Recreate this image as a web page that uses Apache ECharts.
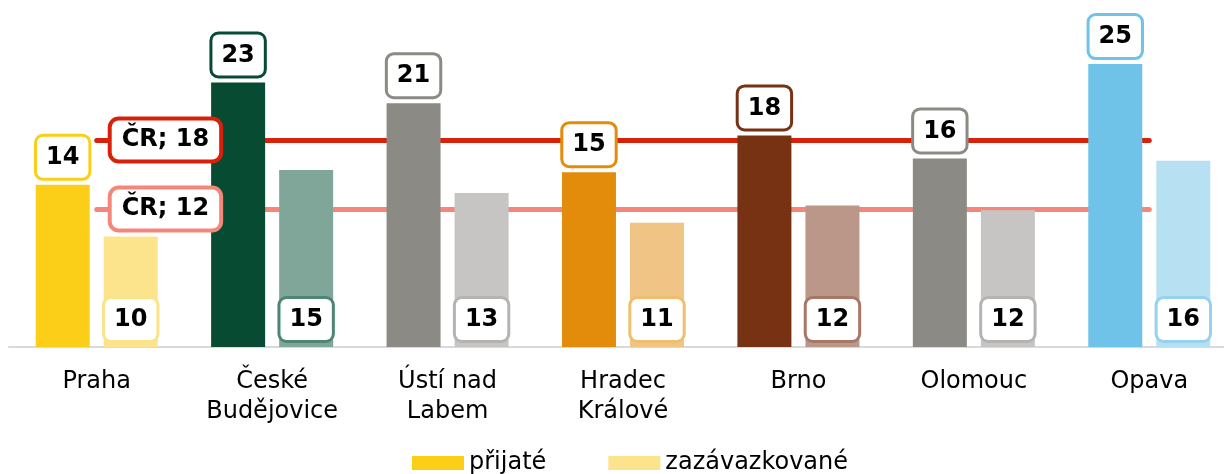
<!DOCTYPE html>
<html>
<head>
<meta charset="utf-8">
<script src="https://cdn.jsdelivr.net/npm/echarts@6/dist/echarts.min.js"></script>
<style>
  html, body { margin: 0; padding: 0; background: #fff; }
  #chart { width: 1224px; height: 474px; }
</style>
</head>
<body>
<div id="chart"></div>
<script>
// data
const categories = ['Praha', 'České\nBudějovice', 'Ústí nad\nLabem', 'Hradec\nKrálové', 'Brno', 'Olomouc', 'Opava']
const prijate = [14.1, 23.0, 21.2, 15.2, 18.4, 16.4, 24.6]
const zavazkovane = [9.6, 15.4, 13.4, 10.8, 12.3, 11.9, 16.2]
const crPrijate = 18
const crZavazkovane = 12

// colours per region: strong / light / light label border
const darkColors = ['#fbcf17', '#064b32', '#8b8a84', '#e38c0b', '#773113', '#8b8a84', '#6fc3e8']
const lightColors = ['#fce48c', '#7fa698', '#c6c5c3', '#f0c484', '#bb978a', '#c6c5c3', '#b7e0f2']
const lightBorders = ['#fbe38a', '#4f8671', '#b4b3b1', '#efbe6f', '#a87866', '#b4b3b1', '#94d2ef']

const font = 'DejaVu Sans, Verdana, sans-serif'

const boxLabel = {
  show: true,
  formatter: p => Math.round(p.value),
  fontFamily: font,
  fontWeight: 'bold',
  fontSize: 24,
  lineHeight: 26,
  color: '#000',
  backgroundColor: '#fff',
  borderWidth: 3,
  borderRadius: 6,
  padding: [8, 9, 7, 9]
}

// reference line with a boxed label at its start
function crLine(value, color) {
  return [
    {
      coord: [0, value],
      lineStyle: { color: color, width: 5, type: 'solid', cap: 'round' },
      label: Object.assign({}, boxLabel, {
        position: 'insideStart',
        distance: 15,
        formatter: 'ČR; ' + value,
        borderColor: color,
        borderWidth: 4,
        borderRadius: 7,
        padding: [7, 10, 6, 10]
      })
    },
    { coord: [6, value] }
  ]
}

const chart = echarts.init(document.getElementById('chart'))

chart.setOption({
  animation: false,
  grid: { left: 9, right: -13, top: 2, bottom: 127, outerBoundsMode: 'none', containLabel: false },
  legend: {
    left: 407,
    top: 446,
    icon: 'rect',
    itemWidth: 52,
    itemHeight: 14,
    itemGap: 62,
    textStyle: { fontFamily: font, fontSize: 24, color: '#000' },
    data: ['přijaté', 'zazávazkované']
  },
  xAxis: {
    type: 'category',
    data: categories,
    axisLine: { lineStyle: { color: '#d9d9d9', width: 2 } },
    axisTick: { show: false },
    axisLabel: {
      fontFamily: font,
      fontSize: 24,
      color: '#000',
      lineHeight: 30,
      margin: 20
    }
  },
  yAxis: {
    type: 'value',
    min: 0,
    max: 30,
    show: false,
    splitLine: { show: false }
  },
  series: [
    {
      name: 'přijaté',
      type: 'bar',
      barWidth: 54,
      barGap: '26%',
      itemStyle: { color: darkColors[0] },
      label: Object.assign({}, boxLabel, { position: 'top', distance: 7 }),
      data: prijate.map((v, i) => ({
        value: v,
        itemStyle: { color: darkColors[i] },
        label: { borderColor: darkColors[i] }
      }))
    },
    {
      name: 'zazávazkované',
      type: 'bar',
      barWidth: 54,
      itemStyle: { color: lightColors[0] },
      label: Object.assign({}, boxLabel, { position: 'insideBottom', distance: 7 }),
      data: zavazkovane.map((v, i) => ({
        value: v,
        itemStyle: { color: lightColors[i] },
        label: { borderColor: lightBorders[i] }
      }))
    },
    {
      name: 'ČR',
      type: 'line',
      z: 2,
      data: [],
      markLine: {
        silent: true,
        z: 2,
        symbol: ['none', 'none'],
        data: [crLine(crPrijate, '#d9200b'), crLine(crZavazkovane, '#f4877a')]
      }
    }
  ]
})
</script>
</body>
</html>
